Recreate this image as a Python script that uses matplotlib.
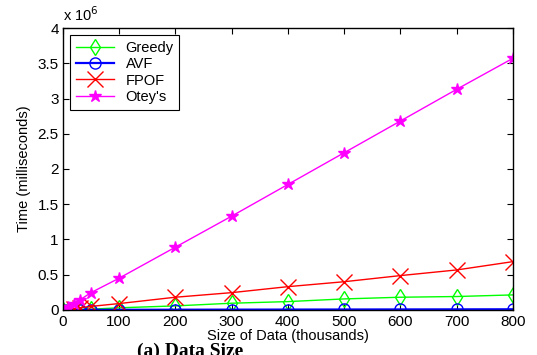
import matplotlib
matplotlib.use("Agg")
import matplotlib.pyplot as plt
from matplotlib.ticker import FuncFormatter

plt.rcParams['font.family'] = ['Liberation Sans', 'DejaVu Sans']

# data size in thousands, time in units of 10^6 milliseconds
sizes = [1, 10, 20, 30, 50, 100, 200, 300, 400, 500, 600, 700, 800]
greedy = [0.0, 0.002, 0.004, 0.006, 0.01, 0.03, 0.057, 0.095, 0.118, 0.156, 0.18, 0.19, 0.213]
avf = [0.0, 0.0, 0.0, 0.001, 0.001, 0.002, 0.003, 0.004, 0.005, 0.006, 0.007, 0.008, 0.009]
fpof = [0.0, 0.01, 0.02, 0.03, 0.05, 0.09, 0.18, 0.245, 0.33, 0.40, 0.487, 0.567, 0.685]
otey = [0.005, 0.045, 0.09, 0.14, 0.245, 0.45, 0.89, 1.33, 1.78, 2.23, 2.68, 3.13, 3.57]

fig = plt.figure(figsize=(5.37, 3.55), dpi=100)
ax = fig.add_axes([0.117, 0.127, 0.838, 0.794])

ax.plot(sizes, greedy, color='#00ff00', marker='d', mfc='none', ms=8, lw=1, label='Greedy')
ax.plot(sizes, avf, color='#0000ff', marker='o', mfc='none', ms=8, lw=1.6, label='AVF')
ax.plot(sizes, fpof, color='#ff0000', marker='x', ms=12, lw=1, label='FPOF')
ax.plot(sizes, otey, color='#ff00ff', marker='*', ms=9, lw=1, label="Otey's")

ax.set_xlim(0, 800)
ax.set_ylim(0, 4)
ax.set_xticks(range(0, 801, 100))
ax.set_yticks([0, 0.5, 1, 1.5, 2, 2.5, 3, 3.5, 4])
ax.yaxis.set_major_formatter(FuncFormatter(lambda v, p: '%g' % v))
ax.tick_params(direction='in', top=True, right=True, length=4, labelsize=11)
ax.tick_params(axis='x', pad=4)
ax.tick_params(axis='y', pad=3)
for s in ax.spines.values():
	s.set_linewidth(1)

ax.set_xlabel('Size of Data (thousands)', fontsize=10.5, labelpad=0)
ax.set_ylabel('Time (milliseconds)', fontsize=10.5, labelpad=5)
ax.text(0.0, 1.015, r'x 10$^6$', transform=ax.transAxes, fontsize=10.5, va='bottom')

leg = ax.legend(loc='upper left', fontsize=10.5, fancybox=False, framealpha=1,
	edgecolor='black', borderaxespad=0.5, handlelength=2.6, labelspacing=0.15)
leg.get_frame().set_linewidth(0.8)

fig.text(137 / 537, 1 - 343 / 355, '(a) Data Size', family='Liberation Serif',
	fontweight='bold', fontsize=14, va='top', ha='left')

fig.savefig('out.png', dpi=100)
